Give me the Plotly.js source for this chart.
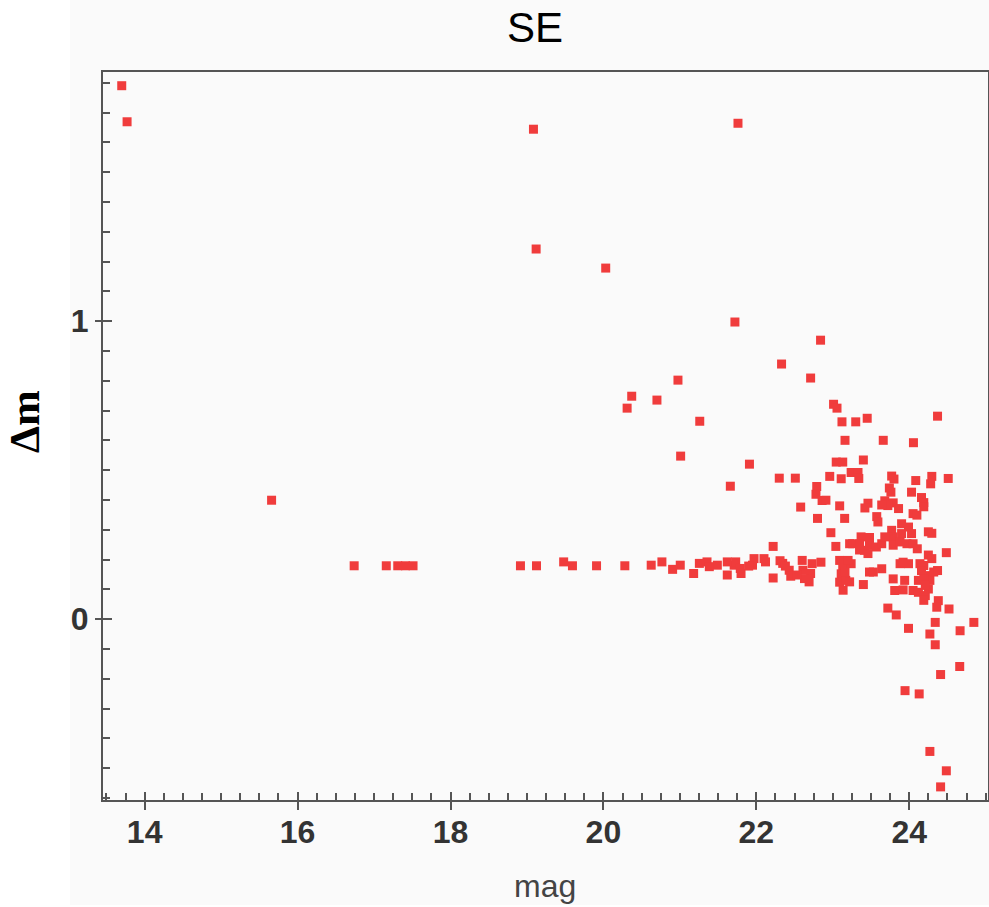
<!DOCTYPE html>
<html>
<head>
<meta charset="utf-8">
<script src="https://cdn.plot.ly/plotly-3.0.1.min.js"></script>
<style>html,body{margin:0;padding:0;background:#fff;}#chart{width:989px;height:907px;}</style>
</head>
<body>
<div id="chart"></div>
<script>
// magnitude (x) and Δm (y) of each source
const mag = [13.70,13.77,19.085,21.76,19.12,20.03,21.72,22.33,22.84,22.71,20.975,20.37,20.70,20.31,21.26,21.01,21.91,22.30,22.51,21.66,15.66,
23.01,23.055,23.12,23.30,23.45,24.37,23.16,23.66,24.055,23.045,23.13,23.40,22.96,23.11,23.24,23.33,23.34,23.77,23.80,24.085,24.295,24.28,24.51,
22.79,22.78,22.86,22.91,23.74,23.76,24.03,24.16,24.19,22.58,23.09,23.46,23.42,23.68,23.79,23.72,23.64,23.86,24.19,
22.80,23.155,23.575,23.59,24.05,24.10,22.975,23.77,23.90,23.99,24.03,23.90,23.79,24.25,24.295,
23.04,23.22,23.26,23.37,23.415,23.48,23.57,23.64,23.68,23.79,23.88,23.97,24.05,24.105,24.485,22.22,
22.60,22.73,22.845,23.09,23.13,23.11,23.09,23.17,23.24,23.20,23.135,23.22,23.40,23.48,23.53,23.64,23.46,
23.88,23.92,23.99,24.14,24.19,23.79,23.81,23.92,23.94,24.12,24.16,24.23,24.27,24.32,24.37,24.05,24.12,24.21,24.25,
24.38,24.36,23.72,23.83,24.52,23.99,24.27,24.34,24.845,24.665,24.34,24.66,24.41,23.945,24.13,24.27,24.485,24.41,
24.25,24.295,24.19,24.21,24.19,23.35,23.16,22.69,22.71,22.61,22.63,22.43,22.45,22.345,22.31,22.22,22.10,22.12,
21.97,21.95,21.80,21.62,21.71,21.62,21.49,21.355,21.385,21.255,21.18,21.005,20.905,20.765,20.625,20.28,19.91,
19.595,19.48,19.125,18.915,17.51,17.41,17.31,17.16,16.74,21.73,21.79,21.90,22.38,22.535,23.48,23.35];
const dm = [1.790,1.669,1.644,1.664,1.242,1.178,0.997,0.856,0.936,0.809,0.802,0.748,0.735,0.708,0.664,0.547,0.520,0.473,0.473,0.446,0.399,
0.721,0.708,0.662,0.662,0.674,0.681,0.600,0.600,0.592,0.527,0.527,0.534,0.479,0.471,0.492,0.492,0.472,0.480,0.470,0.465,0.479,0.454,0.472,
0.445,0.419,0.398,0.399,0.440,0.426,0.426,0.408,0.391,0.376,0.380,0.389,0.373,0.397,0.390,0.381,0.383,0.371,0.377,
0.338,0.338,0.344,0.326,0.354,0.349,0.290,0.298,0.320,0.309,0.287,0.287,0.276,0.293,0.288,
0.244,0.253,0.253,0.276,0.231,0.248,0.242,0.253,0.276,0.248,0.259,0.253,0.253,0.236,0.223,0.244,
0.197,0.186,0.191,0.197,0.180,0.152,0.124,0.130,0.186,0.197,0.097,0.125,0.116,0.158,0.158,0.169,0.220,
0.186,0.191,0.186,0.186,0.180,0.135,0.096,0.098,0.130,0.130,0.163,0.146,0.130,0.158,0.163,0.096,0.090,0.079,0.101,
0.062,0.040,0.037,0.014,0.034,-0.031,-0.050,-0.011,-0.011,-0.039,-0.086,-0.159,-0.186,-0.240,-0.251,-0.444,-0.509,-0.563,
0.215,0.203,0.136,0.113,0.063,0.232,0.158,0.125,0.153,0.164,0.136,0.164,0.144,0.187,0.196,0.138,0.203,0.192,
0.203,0.181,0.153,0.148,0.181,0.192,0.181,0.192,0.176,0.187,0.153,0.181,0.167,0.192,0.181,0.179,0.179,
0.179,0.192,0.179,0.179,0.179,0.179,0.179,0.179,0.179,0.192,0.170,0.178,0.178,0.148,0.274,0.252];

const chartTitle = 'SE';
const xTitle = 'mag';
const yTitle = 'Δm';
const xRange = [13.455, 25.03];
const yRange = [-0.607, 1.836];

const W = 989, H = 907;
const M = {l: 103, r: 1, t: 72, b: 107};
const pw = W - M.l - M.r, ph = H - M.t - M.b;
const px = v => (v - M.l) / pw;          // pixel -> paper x
const py = v => (H - M.b - v) / ph;      // pixel -> paper y

const tickFont = {family: 'Liberation Sans, Arial, sans-serif', size: 32, color: '#333', weight: 'bold'};

const traces = [
  {x: mag, y: dm, type: 'scatter', mode: 'markers', hoverinfo: 'skip',
   marker: {symbol: 'square', size: 9, color: '#f03c3c', line: {width: 0}}},
  {x: [], y: [], xaxis: 'x2', yaxis: 'y2', type: 'scatter', mode: 'markers', showlegend: false}
];

const layout = {
  width: W, height: H,
  margin: M,
  paper_bgcolor: '#ffffff',
  plot_bgcolor: '#fdfdfd',
  showlegend: false,
  xaxis: {
    range: xRange, showgrid: false, zeroline: false,
    showline: true, linecolor: '#555', linewidth: 2, mirror: true,
    ticks: 'outside', ticklen: 8, tickwidth: 2, tickcolor: '#555', dtick: 2, tick0: 0,
    minor: {ticks: 'inside', ticklen: 7, tickwidth: 2, tickcolor: '#555', dtick: 0.25, tick0: 0, showgrid: false},
    tickfont: tickFont, ticklabelstandoff: -5
  },
  yaxis: {
    range: yRange, showgrid: false, zeroline: false,
    showline: true, linecolor: '#555', linewidth: 2, mirror: true,
    ticks: 'outside', ticklen: 6, tickwidth: 2, tickcolor: '#555', dtick: 1, tick0: 0,
    minor: {ticks: 'inside', ticklen: 7, tickwidth: 2, tickcolor: '#555', dtick: 0.1, tick0: 0, showgrid: false},
    tickfont: tickFont
  },
  xaxis2: {
    range: xRange, overlaying: 'x', anchor: 'y2', side: 'bottom', showgrid: false, zeroline: false,
    showline: false, showticklabels: false, ticks: 'inside', ticklen: 8, tickwidth: 2, tickcolor: '#555', dtick: 2, tick0: 0
  },
  yaxis2: {
    range: yRange, overlaying: 'y', anchor: 'x2', side: 'left', showgrid: false, zeroline: false,
    showline: false, showticklabels: false, ticks: 'inside', ticklen: 9, tickwidth: 2, tickcolor: '#555', dtick: 1, tick0: 0
  },
  shapes: [
    {type: 'rect', xref: 'paper', yref: 'paper', x0: px(70), x1: px(989), y0: py(905), y1: py(0),
     fillcolor: '#fafafa', line: {width: 0}, layer: 'below'}
  ],
  annotations: [
    {text: chartTitle, xref: 'paper', yref: 'paper', x: px(535), y: py(28), xanchor: 'center', yanchor: 'middle',
     showarrow: false, font: {family: 'Liberation Sans, Arial, sans-serif', size: 42, color: '#000'}},
    {text: xTitle, xref: 'paper', yref: 'paper', x: px(545), y: py(886), xanchor: 'center', yanchor: 'middle',
     showarrow: false, font: {family: 'Liberation Sans, Arial, sans-serif', size: 32, color: '#444'}},
    {text: yTitle, xref: 'paper', yref: 'paper', x: px(25), y: py(422), xanchor: 'center', yanchor: 'middle',
     textangle: -90, showarrow: false, font: {family: 'Liberation Serif, DejaVu Serif, serif', size: 43, color: '#000', weight: 'bold'}}
  ]
};

Plotly.newPlot('chart', traces, layout, {staticPlot: true, displayModeBar: false});
</script>
</body>
</html>
